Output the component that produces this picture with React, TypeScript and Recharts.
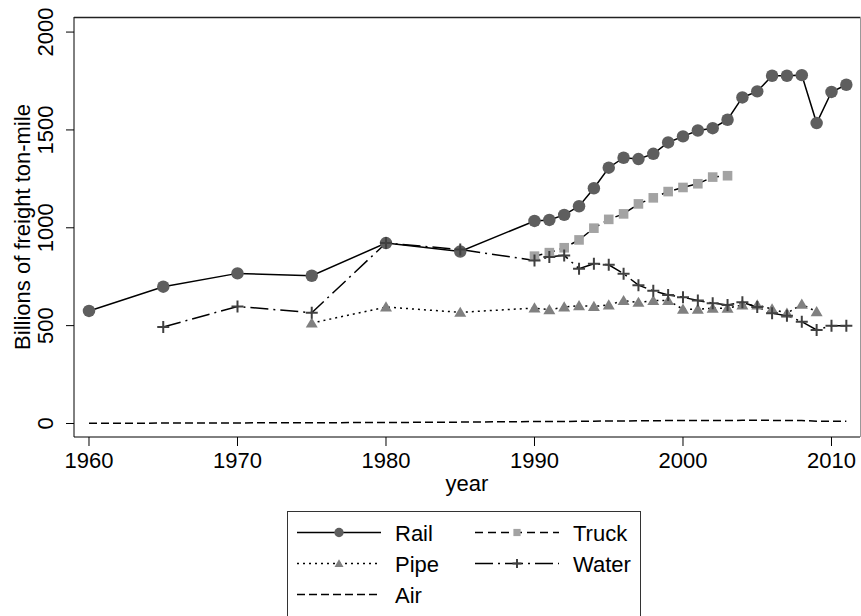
import { LineChart, Line, XAxis, YAxis } from 'recharts';

// freight ton-miles by mode (billions)
const YEARS = [
  1960, 1965, 1970, 1975, 1980, 1985,
  1990, 1991, 1992, 1993, 1994, 1995, 1996, 1997, 1998, 1999, 2000,
  2001, 2002, 2003, 2004, 2005, 2006, 2007, 2008, 2009, 2010, 2011,
];
const RAIL = [
  575, 699, 767, 755, 922, 879,
  1035, 1040, 1066, 1110, 1202, 1307, 1358, 1351, 1378, 1436, 1467,
  1497, 1509, 1552, 1666, 1697, 1777, 1777, 1780, 1535, 1694, 1731,
];
const TRUCK = [
  null, null, null, null, null, null,
  855, 873, 898, 938, 998, 1043, 1071, 1122, 1153, 1185, 1206,
  1225, 1259, 1266, null, null, null, null, null, null, null, null,
];
const PIPE = [
  null, null, null, 513, 595, 568,
  590, 581, 595, 602, 598, 606, 628, 619, 628, 628, 584,
  584, 589, 589, 606, 606, 585, 563, 609, 571, null, null,
];
const WATER = [
  null, 493, 598, 566, 922, 889,
  833, 851, 859, 791, 816, 811, 765, 707, 678, 657, 645,
  628, 615, 606, 619, 595, 563, 551, 520, 478, 500, 500,
];
const AIR = [
  1, 2, 3, 4, 5, 7,
  10, 10, 10, 11, 12, 13, 13, 14, 14, 15, 15,
  15, 15, 15, 16, 16, 16, 15, 15, 12, 12, 12,
];

const X_TICKS = [1960, 1970, 1980, 1990, 2000, 2010];
const Y_TICKS = [0, 500, 1000, 1500, 2000];

const FONT = '"Liberation Sans", Arial, Helvetica, sans-serif';

type Shape = 'circle' | 'square' | 'triangle' | 'plus' | 'none';

const SERIES: { key: string; label: string; dash?: string; shape: Shape; fill: string }[] = [
  { key: 'rail', label: 'Rail', shape: 'circle', fill: '#5e5e5e' },
  { key: 'truck', label: 'Truck', dash: '8 5', shape: 'square', fill: '#a3a3a3' },
  { key: 'pipe', label: 'Pipe', dash: '2 4', shape: 'triangle', fill: '#808080' },
  { key: 'water', label: 'Water', dash: '18 5 2 5', shape: 'plus', fill: '#404040' },
  { key: 'air', label: 'Air', dash: '8 4', shape: 'none', fill: '#000' },
];

const data = YEARS.map((year, i) => ({
  year,
  rail: RAIL[i],
  truck: TRUCK[i],
  pipe: PIPE[i],
  water: WATER[i],
  air: AIR[i],
}));

function Marker({ shape, cx, cy, s, fill }: { shape: Shape; cx: number; cy: number; s: number; fill: string }) {
  if (shape === 'circle') return <circle cx={cx} cy={cy} r={s * 0.52} fill={fill} />;
  if (shape === 'square') {
    const h = s * 0.4;
    return <rect x={cx - h} y={cy - h} width={h * 2} height={h * 2} fill={fill} />;
  }
  if (shape === 'triangle') {
    const h = s * 0.5;
    return (
      <polygon
        points={`${cx - h},${cy + h * 0.75} ${cx + h},${cy + h * 0.75} ${cx},${cy - h * 0.95}`}
        fill={fill}
      />
    );
  }
  if (shape === 'plus') {
    const h = s * 0.5;
    return (
      <path d={`M${cx - h},${cy}H${cx + h}M${cx},${cy - h}V${cy + h}`} stroke={fill} strokeWidth={2} />
    );
  }
  return null;
}

function YTick(props: any) {
  const { x, y, payload } = props;
  return (
    <text
      x={x}
      y={y}
      transform={`rotate(-90 ${x} ${y})`}
      textAnchor="middle"
      fontSize={22}
      fontFamily={FONT}
      fill="#000"
    >
      {payload.value}
    </text>
  );
}

// legend grid: two columns, rows filled left to right
const LEG_COLS = [297, 475];
const LEG_ROWS = [532.5, 563.5, 594.5];

export default function App() {
  return (
    <div style={{ position: 'absolute', left: 0, top: 0, width: 861, height: 616, background: '#fff' }}>
      <LineChart
        width={861}
        height={616}
        data={data}
        margin={{ top: 17, right: 1, left: 0, bottom: 139 }}
      >
        <XAxis
          dataKey="year"
          type="number"
          domain={[1958.99, 2011.92]}
          allowDataOverflow
          ticks={X_TICKS}
          tickSize={9}
          tickMargin={6}
          height={40}
          stroke="#000"
          tick={{ fill: '#000', fontSize: 22, fontFamily: FONT }}
        />
        <YAxis
          type="number"
          domain={[-69, 2077]}
          allowDataOverflow
          ticks={Y_TICKS}
          tickSize={8}
          tickMargin={13}
          width={74}
          stroke="#000"
          tick={<YTick />}
        />
        {SERIES.map((s) => (
          <Line
            key={s.key}
            dataKey={s.key}
            type="linear"
            stroke="#000"
            strokeWidth={1.5}
            strokeDasharray={s.dash}
            isAnimationActive={false}
            activeDot={false}
            dot={(p: any) => {
              if (s.shape === 'none' || p.cx == null || p.cy == null || p.value == null) {
                return <g key={`${s.key}-${p.index}`} />;
              }
              return (
                <g key={`${s.key}-${p.index}`}>
                  <Marker shape={s.shape} cx={p.cx} cy={p.cy} s={12} fill={s.fill} />
                </g>
              );
            }}
          />
        ))}
      </LineChart>

      <svg
        width={861}
        height={616}
        style={{ position: 'absolute', left: 0, top: 0, pointerEvents: 'none' }}
        fontFamily={FONT}
      >
        {/* plot region frame: dark top edge, light right edge */}
        <line x1={74} x2={860.5} y1={17.5} y2={17.5} stroke="#222" strokeWidth={1.5} />
        <line x1={860.5} x2={860.5} y1={17} y2={437} stroke="#999" strokeWidth={1} />
        <text
          x={30}
          y={227}
          transform="rotate(-90 30 227)"
          textAnchor="middle"
          fontSize={22}
          fill="#000"
        >
          Billions of freight ton-mile
        </text>
        <text x={467} y={491} textAnchor="middle" fontSize={22} fill="#000">
          year
        </text>
        <rect x={287.5} y={511.5} width={353} height={110} fill="none" stroke="#333" strokeWidth={1} />
        {SERIES.map((s, i) => {
          const x0 = LEG_COLS[i % 2];
          const y = LEG_ROWS[Math.floor(i / 2)];
          return (
            <g key={s.key}>
              <line x1={x0} x2={x0 + 84} y1={y} y2={y} stroke="#000" strokeWidth={1.5} strokeDasharray={s.dash} />
              {s.shape !== 'none' && <Marker shape={s.shape} cx={x0 + 42} cy={y} s={9} fill={s.fill} />}
              <text x={x0 + 98} y={y + 8} fontSize={22} fill="#000">
                {s.label}
              </text>
            </g>
          );
        })}
      </svg>
    </div>
  );
}
